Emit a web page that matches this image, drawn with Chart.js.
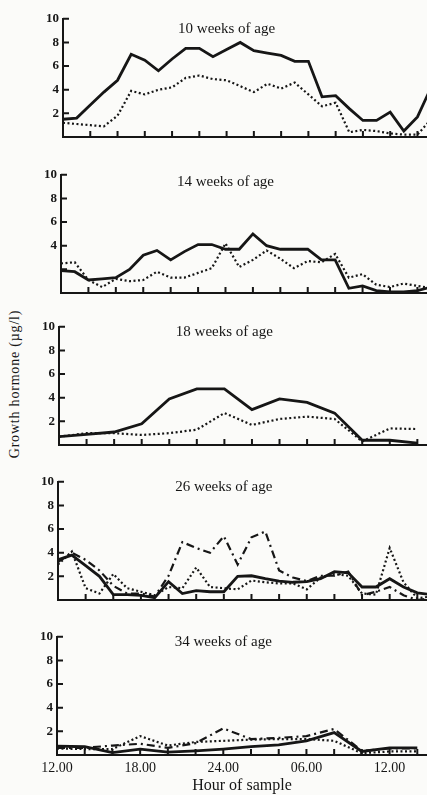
<!DOCTYPE html>
<html>
<head>
<meta charset="utf-8">
<script src="https://cdn.jsdelivr.net/npm/chart.js@4.4.1/dist/chart.umd.min.js"></script>
<style>
    body { margin: 0; background: #fbfbf9; }
    #wrap { position: relative; width: 427px; height: 795px; overflow: hidden; }
    .panel { position: absolute; left: 0; width: 427px; }
    #ytitle {
        position: absolute; left: 15px; top: 384px;
        transform: translate(-50%, -50%) rotate(-90deg);
        font: 14px 'Liberation Serif', 'DejaVu Serif', serif; color: #161616;
        white-space: nowrap; letter-spacing: 0.8px;
    }
</style>
</head>
<body>
<div id="wrap">
    <div id="ytitle">Growth hormone (µg/l)</div>
</div>
<script>
// Sampling times, hours after 12.00
const HOURS_1H = [0, 1, 2, 3, 4, 5, 6, 7, 8, 9, 10, 11, 12, 13, 14, 15, 16, 17, 18, 19, 20, 21, 22, 23, 24, 25, 26, 27];
const HOURS_2H = [0, 2, 4, 6, 8, 10, 12, 14, 16, 18, 20, 22, 24, 26];

// x axis tick marks and labels
const X_TICK_HOURS = [0, 2, 4, 6, 8, 10, 12, 14, 16, 18, 20, 22, 24, 26];
const X_LABEL_HOURS = [0, 6, 12, 18, 24];
const X_LABELS = ['12.00', '18.00', '24.00', '06.00', '12.00'];
const Y_TICKS = [0, 2, 4, 6, 8, 10];

// 10 weeks
const AGE10_SOLID  = [1.5, 1.6, 2.7, 3.8, 4.8, 7.0, 6.5, 5.6, 6.6, 7.5, 7.5, 6.8, 7.4, 8.0, 7.3, 7.1, 6.9, 6.4, 6.4, 3.4, 3.5, 2.4, 1.4, 1.4, 2.1, 0.5, 1.7, 4.2];
const AGE10_DOTTED = [1.2, 1.1, 1.0, 0.9, 1.8, 3.9, 3.6, 4.0, 4.2, 5.0, 5.2, 4.9, 4.8, 4.3, 3.8, 4.5, 4.1, 4.6, 3.6, 2.6, 2.9, 0.4, 0.6, 0.5, 0.3, 0.2, 0.2, 1.5];

// 14 weeks
const AGE14_SOLID  = [1.9, 1.8, 1.1, 1.2, 1.3, 2.0, 3.2, 3.6, 2.8, 3.5, 4.1, 4.1, 3.7, 3.7, 5.0, 4.0, 3.7, 3.7, 3.7, 2.8, 2.8, 0.4, 0.6, 0.2, 0.1, 0.1, 0.2, 0.5];
const AGE14_DOTTED = [2.5, 2.6, 1.1, 0.5, 1.2, 1.0, 1.1, 1.8, 1.3, 1.3, 1.7, 2.1, 4.2, 2.2, 2.8, 3.6, 2.9, 2.1, 2.7, 2.6, 3.3, 1.3, 1.6, 0.7, 0.5, 0.8, 0.6, 0.4];

// 18 weeks (2-hourly)
const AGE18_SOLID  = [0.7, 0.9, 1.1, 1.8, 3.9, 4.75, 4.75, 3.0, 3.9, 3.6, 2.7, 0.4, 0.4, 0.15];
const AGE18_DOTTED = [0.7, 1.0, 1.0, 0.85, 1.0, 1.3, 2.7, 1.7, 2.2, 2.4, 2.2, 0.3, 1.4, 1.35];

// 26 weeks
const AGE26_SOLID   = [3.4, 3.8, 2.9, 2.0, 0.45, 0.45, 0.4, 0.2, 1.55, 0.55, 0.8, 0.7, 0.7, 2.0, 2.05, 1.8, 1.6, 1.5, 1.55, 1.8, 2.4, 2.3, 1.1, 1.1, 1.8, 1.1, 0.6, 0.45];
const AGE26_DOTTED  = [3.0, 4.1, 1.0, 0.55, 2.2, 1.0, 0.7, 0.4, 1.1, 1.0, 2.75, 1.1, 1.0, 0.9, 1.65, 1.5, 1.4, 1.4, 0.9, 1.9, 2.2, 2.05, 0.55, 0.45, 4.4, 1.5, 0.15, 0.3];
const AGE26_DASHDOT = [3.2, 4.0, 3.4, 2.5, 1.2, 0.55, 0.55, 0.3, 2.05, 4.9, 4.4, 4.0, 5.4, 3.0, 5.3, 5.8, 2.5, 1.9, 1.6, 2.05, 2.05, 2.4, 0.4, 0.7, 1.1, 0.4, 0.0, 0.15];

// 34 weeks (2-hourly)
const AGE34_SOLID   = [0.75, 0.7, 0.2, 0.5, 0.25, 0.35, 0.5, 0.7, 0.85, 1.2, 1.9, 0.3, 0.6, 0.6];
const AGE34_DOTTED  = [0.55, 0.5, 0.5, 1.6, 0.8, 1.1, 1.2, 1.3, 1.35, 1.35, 1.2, 0.15, 0.3, 0.3];
const AGE34_DASHDOT = [0.6, 0.6, 0.8, 0.95, 0.6, 1.0, 2.25, 1.35, 1.45, 1.6, 2.2, 0.35, 0.55, 0.55];

const INK = '#161616';
const SERIF = "'Liberation Serif', 'DejaVu Serif', serif";
const X_MAX = 26.7;
const PLOT_H = 122;
const PAD_TOP = 8;

const LINE_STYLES = {
    solid:   { borderWidth: 2.8, borderDash: [] },
    dotted:  { borderWidth: 2.2, borderDash: [2, 2.5] },
    dashdot: { borderWidth: 2.2, borderDash: [8, 4, 2, 4] }
};

// layout of each panel: y of the "10" tick, x of the y axis
const PANELS = [
    { title: '10 weeks of age', top: 15,  left: 63, titleDy: 10, yLabels: [2, 4, 6, 8, 10], hours: HOURS_1H,
      series: [[AGE10_SOLID, 'solid'], [AGE10_DOTTED, 'dotted']] },
    { title: '14 weeks of age', top: 171, left: 61, titleDy: 7,  yLabels: [4, 6, 8, 10], hours: HOURS_1H,
      series: [[AGE14_SOLID, 'solid'], [AGE14_DOTTED, 'dotted']] },
    { title: '18 weeks of age', top: 323, left: 59, titleDy: 5,  yLabels: [2, 4, 6, 8, 10], hours: HOURS_2H,
      series: [[AGE18_SOLID, 'solid'], [AGE18_DOTTED, 'dotted']] },
    { title: '26 weeks of age', top: 478, left: 58, titleDy: 5,  yLabels: [2, 4, 6, 8, 10], hours: HOURS_1H,
      series: [[AGE26_SOLID, 'solid'], [AGE26_DOTTED, 'dotted'], [AGE26_DASHDOT, 'dashdot']] },
    { title: '34 weeks of age', top: 633, left: 57, titleDy: 5,  yLabels: [2, 4, 6, 8, 10], hours: HOURS_2H,
      series: [[AGE34_SOLID, 'solid'], [AGE34_DOTTED, 'dotted'], [AGE34_DASHDOT, 'dashdot']] }
];

// tick marks pointing into the plot, plus the panel caption
const inwardTicks = {
    id: 'inwardTicks',
    afterDraw(chart, args, opts) {
        const { ctx, chartArea, scales: { x, y } } = chart;
        ctx.save();
        ctx.strokeStyle = INK;
        ctx.lineWidth = 2;
        ctx.beginPath();
        x.ticks.forEach(t => {
            if (t.value <= 0) return;
            const px = x.getPixelForValue(t.value);
            ctx.moveTo(px, chartArea.bottom);
            ctx.lineTo(px, chartArea.bottom - 6);
        });
        y.ticks.forEach(t => {
            if (t.value <= 0) return;
            const py = y.getPixelForValue(t.value);
            ctx.moveTo(chartArea.left, py);
            ctx.lineTo(chartArea.left + 6, py);
        });
        ctx.stroke();

        ctx.fillStyle = INK;
        ctx.font = `15px ${SERIF}`;
        ctx.textAlign = 'center';
        ctx.textBaseline = 'middle';
        ctx.fillText(opts.text, x.getPixelForValue(12), chartArea.top + opts.dy);
        ctx.restore();
    }
};

const wrap = document.getElementById('wrap');

PANELS.forEach((p, idx) => {
    const isLast = idx === PANELS.length - 1;
    const bottomH = isLast ? 40 : 12;

    const box = document.createElement('div');
    box.className = 'panel';
    box.style.top = (p.top - PAD_TOP) + 'px';
    box.style.height = (PAD_TOP + PLOT_H + bottomH) + 'px';
    const canvas = document.createElement('canvas');
    box.appendChild(canvas);
    wrap.appendChild(box);

    const datasets = p.series.map(([values, style]) => ({
        data: values,
        borderColor: INK,
        backgroundColor: INK,
        borderWidth: LINE_STYLES[style].borderWidth,
        borderDash: LINE_STYLES[style].borderDash,
        borderCapStyle: 'butt',
        pointRadius: 0,
        tension: 0,
        fill: false
    }));

    new Chart(canvas.getContext('2d'), {
        type: 'line',
        data: { labels: p.hours, datasets: datasets },
        options: {
            responsive: true,
            maintainAspectRatio: false,
            animation: false,
            layout: { padding: { top: PAD_TOP, left: 0, right: 0, bottom: 0 } },
            plugins: {
                legend: { display: false },
                tooltip: { enabled: false },
                inwardTicks: { text: p.title, dy: p.titleDy }
            },
            scales: {
                x: {
                    type: 'linear',
                    min: 0,
                    max: X_MAX,
                    afterBuildTicks: s => { s.ticks = X_TICK_HOURS.map(v => ({ value: v })); },
                    afterFit: s => { s.height = bottomH; },
                    grid: { display: false, drawTicks: false },
                    border: { display: true, color: INK, width: 2 },
                    ticks: {
                        display: isLast,
                        autoSkip: false,
                        maxRotation: 0,
                        padding: 5,
                        color: INK,
                        font: { family: SERIF, size: 14 },
                        callback: v => {
                            const i = X_LABEL_HOURS.indexOf(v);
                            return i >= 0 ? X_LABELS[i] : '';
                        }
                    },
                    title: {
                        display: isLast,
                        text: 'Hour of sample',
                        color: INK,
                        font: { family: SERIF, size: 16 },
                        padding: { top: 0, bottom: 0 }
                    }
                },
                y: {
                    min: 0,
                    max: 10,
                    afterBuildTicks: s => { s.ticks = Y_TICKS.map(v => ({ value: v })); },
                    afterFit: s => { s.width = p.left; },
                    grid: { display: false, drawTicks: false },
                    border: { display: true, color: INK, width: 2 },
                    ticks: {
                        padding: 4,
                        color: INK,
                        font: { family: SERIF, size: 13, weight: 'bold' },
                        callback: v => p.yLabels.includes(v) ? String(v) : ''
                    }
                }
            }
        },
        plugins: [inwardTicks]
    });
});
</script>
</body>
</html>
